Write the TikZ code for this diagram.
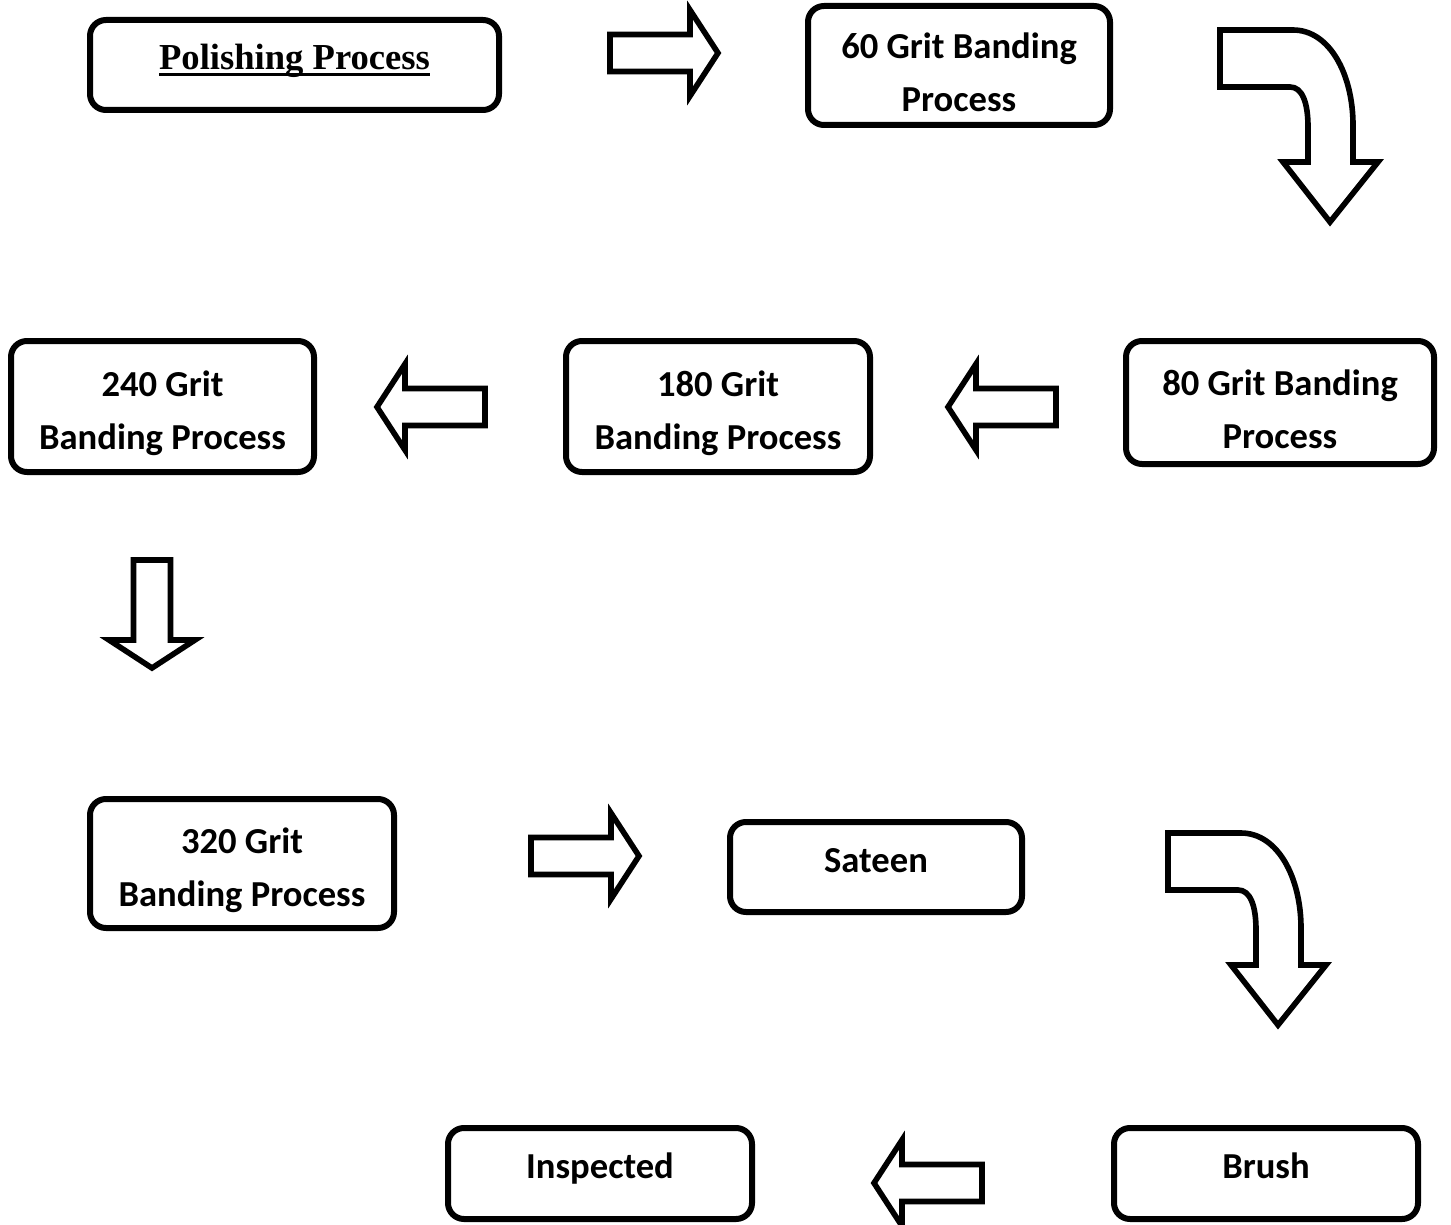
\documentclass[tikz,border=0pt]{standalone}
\usepackage{fontspec}
\setmainfont{Carlito}[BoldFont={Carlito Bold}]
\newfontfamily\timesfont{Liberation Serif}
\newsavebox{\ulbox}
\newcommand{\thickul}[1]{\sbox{\ulbox}{#1}\rlap{\rule[-3.2pt]{\wd\ulbox}{1.8pt}}\usebox{\ulbox}}
\newcommand{\firstline}{\rule{0pt}{20pt}}
\tikzset{
  arrowline/.style={draw,line width=2.8pt,line join=miter,fill=white},
  blockarrow/.pic={\path[arrowline] (0,-18.5) -- (80,-18.5) -- (80,-43) -- (108,0) -- (80,43) -- (80,18.5) -- (0,18.5) -- cycle;},
  bendarrow/.pic={\path[arrowline] (0,0) -- (73,0) .. controls (110,0) and (133,45) .. (133,95) -- (133,132) -- (158,132) -- (110,192) -- (63,132) -- (88,132) -- (88,97) .. controls (88,72) and (82,57) .. (70,57) -- (0,57) -- cycle;}
}
\begin{document}
\begin{tikzpicture}[x=0.5pt,y=-0.5pt,
  box/.style={draw,line width=3pt,rounded corners=8pt,align=center,inner sep=0pt,
    font=\fontsize{18.3}{26.5}\selectfont\bfseries},
  onebox/.style={box,text height=14pt,text depth=9pt}]
\useasboundingbox (0,0) rectangle (1451,1225);

% row 1
\node[onebox,minimum width=204.5pt,minimum height=45pt] (polish) at (294.5,65) {\timesfont\thickul{Polishing Process}};
\node[box,minimum width=151pt,minimum height=59.5pt] (g60) at (959,65.5) {\firstline 60 Grit Banding\\Process};
\pic at (610,53) {blockarrow};
\pic at (1220,30) {bendarrow};

% row 2
\node[box,minimum width=154pt,minimum height=61.5pt] (g80) at (1280,402.5) {\firstline 80 Grit Banding\\Process};
\node[box,minimum width=152pt,minimum height=65.5pt] (g180) at (718,406.5) {\firstline 180 Grit\\Banding Process};
\node[box,minimum width=151.5pt,minimum height=65.5pt] (g240) at (162.5,406.5) {\firstline 240 Grit\\Banding Process};
\pic[rotate=180] at (1056,407) {blockarrow};
\pic[rotate=180] at (485,407) {blockarrow};
\pic[rotate=-90] at (152,560) {blockarrow};

% row 3
\node[box,minimum width=152pt,minimum height=64.5pt] (g320) at (242,863.5) {\firstline 320 Grit\\Banding Process};
\node[onebox,minimum width=146pt,minimum height=45pt] (sateen) at (876,867) {Sateen};
\pic at (531,856) {blockarrow};
\pic at (1168,833) {bendarrow};

% row 4
\node[onebox,minimum width=152pt,minimum height=45.5pt] (brush) at (1266,1173.5) {Brush};
\node[onebox,minimum width=152pt,minimum height=45.5pt] (inspected) at (600,1173.5) {Inspected};
\pic[rotate=180] at (982,1183) {blockarrow};
\end{tikzpicture}
\end{document}
